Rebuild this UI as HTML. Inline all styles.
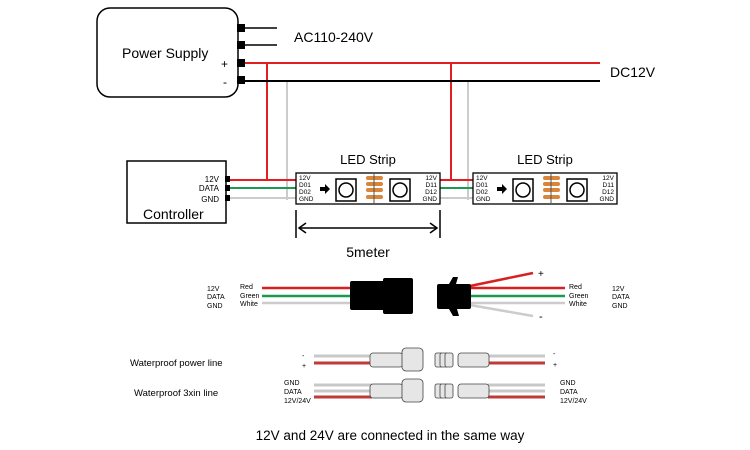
<!DOCTYPE html>
<html><head><meta charset="utf-8"><style>
body{margin:0;background:#fff}
svg{display:block;font-family:"Liberation Sans",sans-serif}
</style></head><body>
<svg width="750" height="450" viewBox="0 0 750 450" xmlns="http://www.w3.org/2000/svg">
<!-- Power supply -->
<rect x="97" y="8" width="141" height="89" rx="13" fill="#fff" stroke="#000" stroke-width="1.5"/>
<text x="122" y="58" font-size="14">Power Supply</text>
<text x="221" y="68" font-size="12">+</text>
<text x="223" y="86" font-size="12">-</text>
<g fill="#000"><rect x="237" y="24" width="8" height="8"/><rect x="237" y="41" width="8" height="8"/><rect x="237" y="59" width="8" height="8"/><rect x="237" y="76" width="8" height="8"/></g>
<line x1="245" y1="28" x2="277" y2="28" stroke="#000" stroke-width="1.5"/>
<line x1="245" y1="45" x2="277" y2="45" stroke="#000" stroke-width="1.5"/>
<text x="294" y="42" font-size="14">AC110-240V</text>
<!-- verticals -->
<line x1="287" y1="81" x2="287" y2="200" stroke="#ccc" stroke-width="2"/>
<line x1="468" y1="81" x2="468" y2="200" stroke="#ccc" stroke-width="2"/>
<line x1="267" y1="63" x2="267" y2="180" stroke="#e02020" stroke-width="2"/>
<line x1="451" y1="63" x2="451" y2="180" stroke="#e02020" stroke-width="2"/>
<line x1="245" y1="63" x2="600" y2="63" stroke="#e02020" stroke-width="2"/>
<line x1="245" y1="81" x2="600" y2="81" stroke="#000" stroke-width="2"/>
<text x="610" y="77" font-size="14">DC12V</text>
<!-- Controller -->
<rect x="127" y="161" width="99" height="62" fill="#fff" stroke="#000" stroke-width="1.5"/>
<g font-size="8" text-anchor="end"><text x="219" y="182">12V</text><text x="219" y="191">DATA</text><text x="219" y="202">GND</text></g>
<text x="143" y="219" font-size="14">Controller</text>
<g fill="#000"><rect x="225" y="176" width="5" height="6"/><rect x="225" y="185" width="5" height="6"/><rect x="225" y="195" width="5" height="6"/></g>
<g stroke-width="2"><line x1="230" y1="180" x2="296" y2="180" stroke="#e02020"/><line x1="230" y1="188" x2="296" y2="188" stroke="#1a9a50"/><line x1="230" y1="198" x2="296" y2="198" stroke="#ccc"/>
<line x1="440" y1="180" x2="473" y2="180" stroke="#e02020"/><line x1="440" y1="188" x2="473" y2="188" stroke="#1a9a50"/><line x1="440" y1="198" x2="473" y2="198" stroke="#ccc"/></g>
<!-- strips -->
<g id="s1">
<rect x="296" y="173" width="144" height="31" fill="#fff" stroke="#000" stroke-width="1.3"/>
<g font-size="6.5"><text x="299" y="180">12V</text><text x="299" y="187">D01</text><text x="299" y="194">D02</text><text x="299" y="201">GND</text>
<text x="437" y="180" text-anchor="end">12V</text><text x="437" y="187" text-anchor="end">D11</text><text x="437" y="194" text-anchor="end">D12</text><text x="437" y="201" text-anchor="end">GND</text></g>
<path d="M320 187h5v-3l5 5-5 5v-3h-5z" fill="#000"/>
<rect x="336" y="179" width="20" height="22" fill="#fff" stroke="#000" stroke-width="1.5"/><circle cx="346" cy="190" r="7" fill="none" stroke="#000" stroke-width="1.5"/>
<rect x="390" y="179" width="20" height="22" fill="#fff" stroke="#000" stroke-width="1.5"/><circle cx="400" cy="190" r="7" fill="none" stroke="#000" stroke-width="1.5"/>
<g fill="#d9853a"><rect x="366" y="176" width="17" height="4" rx="2"/><rect x="366" y="182" width="17" height="4" rx="2"/><rect x="366" y="188" width="17" height="4" rx="2"/><rect x="366" y="195" width="17" height="4" rx="2"/></g>
<line x1="374" y1="174" x2="374" y2="203" stroke="#555" stroke-width="1"/>
<text x="368" y="164" font-size="13" text-anchor="middle">LED Strip</text>
</g>
<use href="#s1" transform="translate(177,0)"/>
<!-- 5 meter -->
<line x1="296" y1="210" x2="296" y2="238" stroke="#000" stroke-width="1.5"/>
<line x1="440" y1="210" x2="440" y2="238" stroke="#000" stroke-width="1.5"/>
<line x1="299" y1="228" x2="437" y2="228" stroke="#000" stroke-width="1.5"/>
<path d="M306 223l-7 5 7 5M430 223l7 5-7 5" fill="none" stroke="#000" stroke-width="1.5"/>
<text x="368" y="257" font-size="14" text-anchor="middle">5meter</text>
<!-- JST connectors -->
<g font-size="7"><text x="207" y="291">12V</text><text x="207" y="299">DATA</text><text x="207" y="308">GND</text>
<text x="240" y="289">Red</text><text x="240" y="298">Green</text><text x="240" y="306">White</text>
<text x="569" y="289">Red</text><text x="569" y="298">Green</text><text x="569" y="306">White</text>
<text x="612" y="291">12V</text><text x="612" y="299">DATA</text><text x="612" y="308">GND</text></g>
<g stroke-width="2.5"><line x1="262" y1="288" x2="355" y2="288" stroke="#d82020"/><line x1="262" y1="296" x2="355" y2="296" stroke="#1a9a50"/><line x1="262" y1="303" x2="355" y2="303" stroke="#ccc"/>
<line x1="470" y1="288" x2="565" y2="288" stroke="#d82020"/><line x1="470" y1="296" x2="565" y2="296" stroke="#1a9a50"/><line x1="470" y1="303" x2="565" y2="303" stroke="#ccc"/>
<line x1="470" y1="286" x2="533" y2="273" stroke="#d82020"/><line x1="470" y1="305" x2="533" y2="316" stroke="#ccc"/></g>
<text x="538" y="277" font-size="10">+</text><text x="539" y="320" font-size="11">-</text>
<rect x="350" y="281" width="36" height="29" rx="2" fill="#000"/>
<rect x="383" y="278" width="30" height="36" rx="2" fill="#000"/>
<rect x="437" y="284" width="34" height="25" rx="2" fill="#000"/>
<path d="M449 284l4-7 5 0-2 7zM449 309l4 7 6 0-2-7z" fill="#000"/>
<!-- waterproof -->
<text x="130" y="366" font-size="9.5">Waterproof  power line</text>
<text x="134" y="396" font-size="9.5">Waterproof  3xin line</text>
<g stroke-width="3"><line x1="314" y1="356" x2="372" y2="356" stroke="#c8c8c8"/><line x1="314" y1="363" x2="372" y2="363" stroke="#c03a3a"/>
<line x1="488" y1="356" x2="545" y2="356" stroke="#c8c8c8"/><line x1="488" y1="363" x2="545" y2="363" stroke="#c03a3a"/>
<line x1="314" y1="385" x2="372" y2="385" stroke="#c8c8c8"/><line x1="314" y1="391" x2="372" y2="391" stroke="#c8c8c8"/><line x1="314" y1="397" x2="372" y2="397" stroke="#c03a3a"/>
<line x1="488" y1="385" x2="545" y2="385" stroke="#c8c8c8"/><line x1="488" y1="391" x2="545" y2="391" stroke="#c8c8c8"/><line x1="488" y1="397" x2="545" y2="397" stroke="#c03a3a"/></g>
<g fill="#e6e6e6" stroke="#444" stroke-width="0.8">
<rect x="370" y="353" width="33" height="14" rx="3"/><rect x="402" y="348" width="21" height="23" rx="4"/>
<rect x="435" y="353" width="8" height="14" rx="2"/><rect x="440" y="353" width="8" height="14" rx="2"/><rect x="445" y="353" width="8" height="14" rx="2"/><rect x="458" y="353" width="31" height="14" rx="3"/>
<rect x="370" y="384" width="33" height="14" rx="3"/><rect x="402" y="379" width="21" height="23" rx="4"/>
<rect x="435" y="384" width="8" height="14" rx="2"/><rect x="440" y="384" width="8" height="14" rx="2"/><rect x="445" y="384" width="8" height="14" rx="2"/><rect x="458" y="384" width="31" height="14" rx="3"/></g>
<g font-size="7"><text x="302" y="358">-</text><text x="302" y="368">+</text><text x="553" y="356">-</text><text x="553" y="367">+</text>
<text x="284" y="385">GND</text><text x="284" y="394">DATA</text><text x="284" y="403">12V/24V</text>
<text x="560" y="385">GND</text><text x="560" y="394">DATA</text><text x="560" y="403">12V/24V</text></g>
<text x="390" y="440" font-size="13.5" text-anchor="middle">12V and 24V are connected in the same way</text>
</svg>
</body></html>
